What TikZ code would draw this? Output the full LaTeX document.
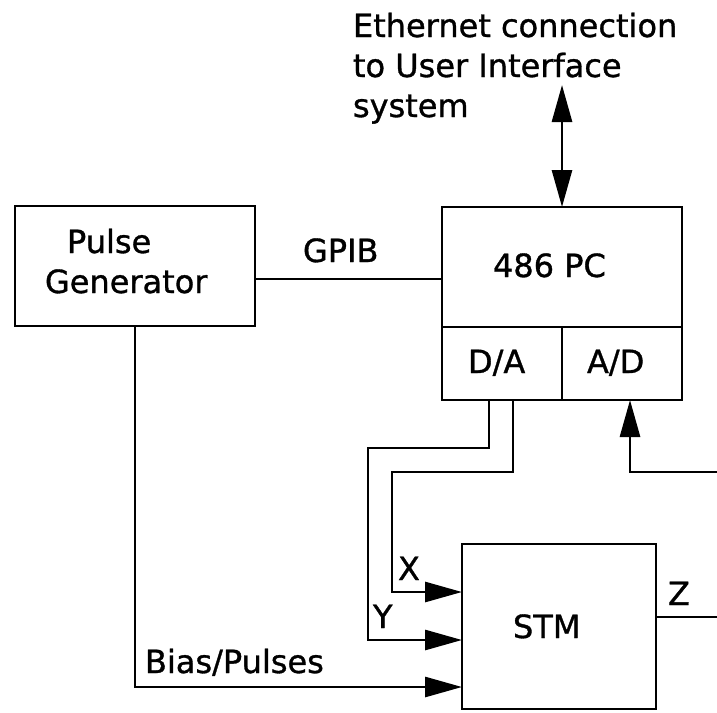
\documentclass[tikz,border=0pt]{standalone}
\usepackage{fontspec}
\setmainfont{DejaVu Sans}
\newfontfamily\diagfont{DejaVu Sans}[FakeBold=1.0]
\usetikzlibrary{arrows.meta}
\begin{document}
\begin{tikzpicture}[x=1pt,y=-1pt,
  every node/.style={inner sep=0pt,outer sep=0pt},
  box/.style={draw,line width=2.8pt,rectangle},
  txt/.style={anchor=base west,font=\diagfont\fontsize{32}{38}\selectfont},
  wire/.style={line width=2.8pt},
  arr/.style={line width=2.8pt,-{Triangle[length=37pt,width=20pt]}},
  darr/.style={line width=2.8pt,{Triangle[length=37pt,width=20pt]}-{Triangle[length=37pt,width=20pt]}}]
\useasboundingbox (0,0) rectangle (717,712);
% boxes
\node[box,minimum width=240pt,minimum height=120pt] (pg) at (135,266) {};
\node[box,minimum width=240pt,minimum height=120pt] (pc) at (562,267) {};
\node[box,minimum width=120pt,minimum height=73pt] (da) at (502,363.5) {};
\node[box,minimum width=120pt,minimum height=73pt] (ad) at (622,363.5) {};
\node[box,minimum width=194pt,minimum height=165pt] (stm) at (559,626.5) {};
% texts
\node[txt] (t1) at (353,37) {Ethernet connection};
\node[txt] (t2) at (353,77) {to User Interface};
\node[txt] (t3) at (353,117) {system};
\node[txt] (pgt1) at (67,253) {Pulse};
\node[txt] (pgt2) at (45,293) {Generator};
\node[txt] (gpib) at (303,262) {GPIB};
\node[txt] (pct) at (493,277) {486 PC};
\node[txt] (dat) at (468,373) {D/A};
\node[txt] (adt) at (587,373) {A/D};
\node[txt] (stmt) at (513,638) {STM};
\node[txt] (xl) at (398,580) {X};
\node[txt] (yl) at (373,628) {Y};
\node[txt] (zl) at (668,605) {Z};
\node[txt] (bias) at (145,673) {Bias/Pulses};
% coordinates
\coordinate (eth) at (562,85);
\coordinate (gy) at (0,279);
\coordinate (xa) at (392,472);
\coordinate (xy) at (0,592);
\coordinate (ya) at (368,448);
\coordinate (yy) at (0,640);
\coordinate (by) at (0,687);
\coordinate (adin) at (717,472);
\coordinate (zout) at (717,617);
% connectors
\draw[darr] (eth) -- (pc.north);
\draw[wire] (pg.east |- gy) -- (pc.west |- gy);
\draw[arr] (pg.south) |- (stm.west |- by);
\draw[arr] ([xshift=11pt]da.south) |- (xa) |- (stm.west |- xy);
\draw[arr] ([xshift=-13pt]da.south) |- (ya) |- (stm.west |- yy);
\draw[arr] (adin) -| ([xshift=8pt]ad.south);
\draw[wire] (stm.east |- zout) -- (zout);
\end{tikzpicture}
\end{document}
